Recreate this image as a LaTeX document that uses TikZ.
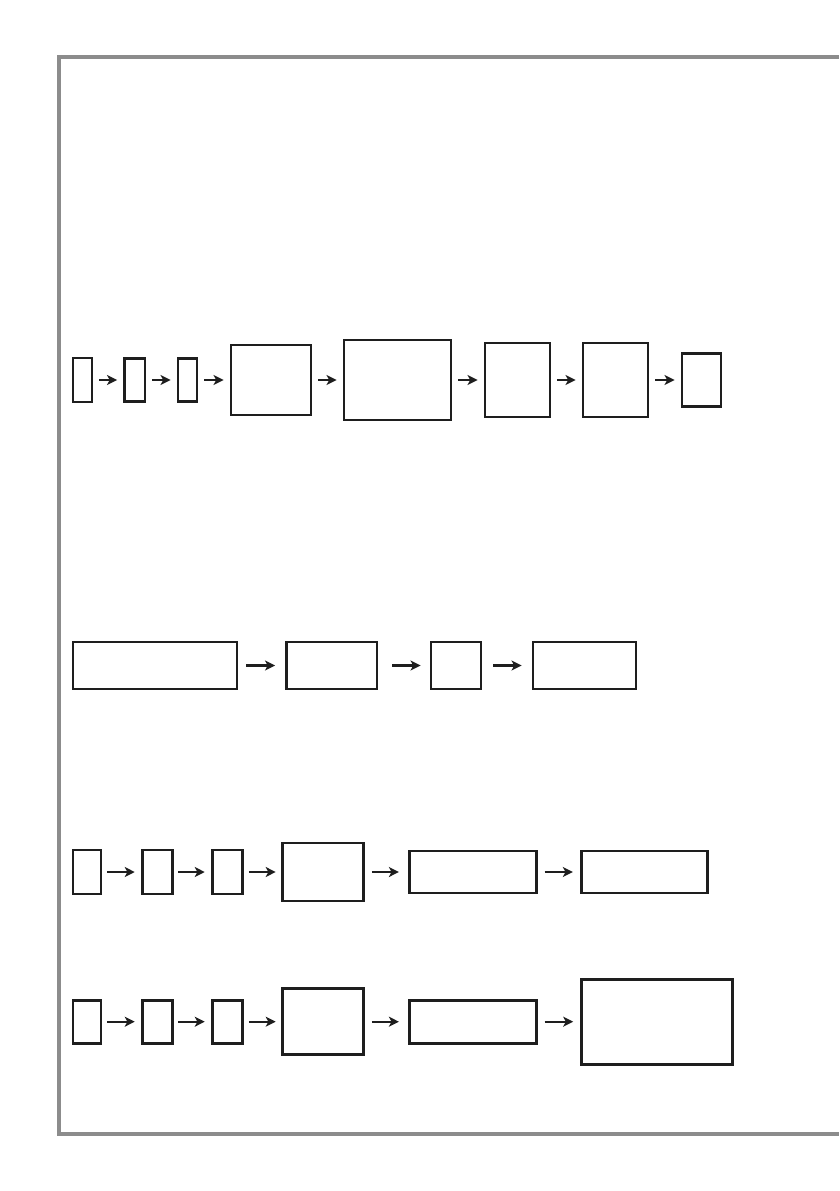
\documentclass[tikz,border=0pt]{standalone}
\usetikzlibrary{arrows.meta}
\newcommand\pxu{0.75pt}
\definecolor{framegray}{RGB}{140,140,140}
\definecolor{ink}{RGB}{30,30,30}
\tikzset{
  box/.style={draw=ink, line width=2.2pt, inner sep=0pt, fill=white},
  flow/.style={draw=ink, line width=1.8pt, -{Stealth[length=7.5pt, width=7.5pt, inset=2pt]}},
  frameline/.style={draw=framegray, line width=3pt},
}
\begin{document}
\begin{tikzpicture}[x=0.75pt, y=-0.75pt]
\useasboundingbox (0,0) rectangle (839,1191);
% frame
\draw[frameline] (839,57) -- (59,57) -- (59,1134) -- (839,1134);

% Row 1
\node[box, minimum width=19*\pxu, minimum height=44*\pxu] (a1) at (82.5,380) {};
\node[box, minimum width=20.5*\pxu, minimum height=42.5*\pxu] (a2) at (134.75,380) {};
\node[box, minimum width=19*\pxu, minimum height=42.5*\pxu] (a3) at (187.5,380) {};
\node[box, minimum width=80*\pxu, minimum height=70*\pxu] (a4) at (271,380) {};
\node[box, minimum width=107*\pxu, minimum height=80*\pxu] (a5) at (397.5,380) {};
\node[box, minimum width=65*\pxu, minimum height=74*\pxu] (a6) at (517.5,380) {};
\node[box, minimum width=65*\pxu, minimum height=74*\pxu] (a7) at (615.5,380) {};
\node[box, minimum width=39*\pxu, minimum height=53*\pxu] (a8) at (701.5,380) {};
\foreach \p/\q in {a1/a2,a2/a3,a3/a4,a4/a5,a5/a6,a6/a7,a7/a8}
  \draw[flow, shorten <=6*\pxu, shorten >=6*\pxu] (\p.east) -- (\q.west);

% Row 2
\node[box, minimum width=164*\pxu, minimum height=47*\pxu] (b1) at (155,665.5) {};
\node[box, minimum width=90.5*\pxu, minimum height=47*\pxu] (b2) at (331.75,665.5) {};
\node[box, minimum width=50*\pxu, minimum height=47*\pxu] (b3) at (456,665.5) {};
\node[box, minimum width=103*\pxu, minimum height=47*\pxu] (b4) at (584.5,665.5) {};
\draw[flow, shorten <=8*\pxu, shorten >=10*\pxu] (b1.east) -- (b2.west);
\draw[flow, shorten <=14*\pxu, shorten >=9*\pxu] (b2.east) -- (b3.west);
\draw[flow, shorten <=11*\pxu, shorten >=10*\pxu] (b3.east) -- (b4.west);

% Row 3
\node[box, minimum width=28*\pxu, minimum height=44*\pxu] (c1) at (87,872) {};
\node[box, minimum width=29.6*\pxu, minimum height=44*\pxu] (c2) at (157.5,872) {};
\node[box, minimum width=29.6*\pxu, minimum height=44*\pxu] (c3) at (227.5,872) {};
\node[box, minimum width=81.3*\pxu, minimum height=58*\pxu] (c4) at (323.3,872) {};
\node[box, minimum width=126.7*\pxu, minimum height=42*\pxu] (c5) at (472.7,872) {};
\node[box, minimum width=126.4*\pxu, minimum height=42*\pxu] (c6) at (644.5,872) {};
\draw[flow, shorten <=5*\pxu, shorten >=6.5*\pxu] (c1.east) -- (c2.west);
\draw[flow, shorten <=4.5*\pxu, shorten >=6.5*\pxu] (c2.east) -- (c3.west);
\draw[flow, shorten <=5*\pxu, shorten >=5.5*\pxu] (c3.east) -- (c4.west);
\draw[flow, shorten <=6.5*\pxu, shorten >=9*\pxu] (c4.east) -- (c5.west);
\draw[flow, shorten <=7*\pxu, shorten >=7*\pxu] (c5.east) -- (c6.west);

% Row 4
\node[box, minimum width=28*\pxu, minimum height=43*\pxu] (d1) at (87,1021.7) {};
\node[box, minimum width=29.6*\pxu, minimum height=43*\pxu] (d2) at (157.5,1021.7) {};
\node[box, minimum width=29.6*\pxu, minimum height=43*\pxu] (d3) at (227.5,1021.7) {};
\node[box, minimum width=81.3*\pxu, minimum height=66.3*\pxu] (d4) at (323.3,1021.7) {};
\node[box, minimum width=126.7*\pxu, minimum height=43.3*\pxu] (d5) at (472.7,1021.7) {};
\node[box, minimum width=151.3*\pxu, minimum height=85*\pxu] (d6) at (657.3,1021.7) {};
\draw[flow, shorten <=5*\pxu, shorten >=6.5*\pxu] (d1.east) -- (d2.west);
\draw[flow, shorten <=4.5*\pxu, shorten >=6.5*\pxu] (d2.east) -- (d3.west);
\draw[flow, shorten <=5*\pxu, shorten >=5.5*\pxu] (d3.east) -- (d4.west);
\draw[flow, shorten <=6.5*\pxu, shorten >=9*\pxu] (d4.east) -- (d5.west);
\draw[flow, shorten <=7*\pxu, shorten >=7*\pxu] (d5.east) -- (d6.west);
\end{tikzpicture}
\end{document}
